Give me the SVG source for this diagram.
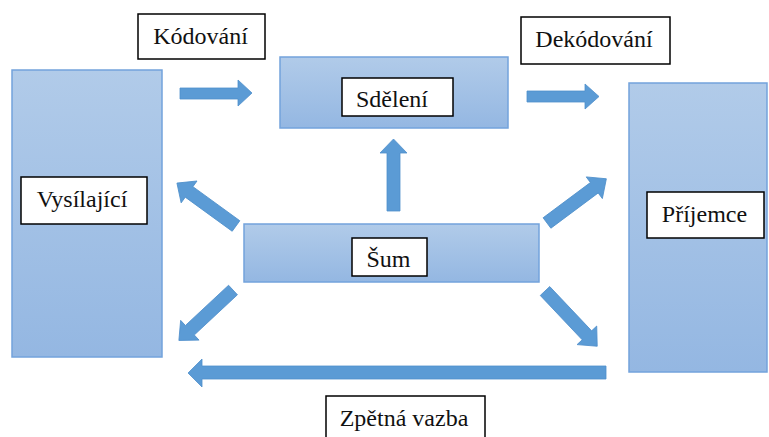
<svg xmlns="http://www.w3.org/2000/svg" width="769" height="437" viewBox="0 0 769 437">
<defs>
<linearGradient id="g" x1="0" y1="0" x2="0" y2="1">
<stop offset="0" stop-color="#b1cbe9"/>
<stop offset="1" stop-color="#94b7e2"/>
</linearGradient>
</defs>
<rect width="769" height="437" fill="#fff"/>
<g id="vysilajici">
<rect x="12" y="70" width="150" height="287" fill="url(#g)" stroke="#73a3dc" stroke-width="1.5"/>
<rect x="21" y="177" width="126" height="47" fill="#fff" stroke="#000" stroke-width="1.5"/>
<text x="82" y="207" font-family="Liberation Serif" font-size="24" fill="#111" text-anchor="middle" style="font-family:'Liberation Serif',serif !important">Vysílající</text>
</g>
<g id="sdeleni">
<rect x="280" y="57" width="228" height="71" fill="url(#g)" stroke="#73a3dc" stroke-width="1.5"/>
<rect x="342" y="78" width="111" height="38" fill="#fff" stroke="#000" stroke-width="1.5"/>
<text x="392" y="107" font-family="Liberation Serif" font-size="24" fill="#111" text-anchor="middle" style="font-family:'Liberation Serif',serif !important">Sdělení</text>
</g>
<g id="prijemce">
<rect x="629" y="83" width="138" height="289" fill="url(#g)" stroke="#73a3dc" stroke-width="1.5"/>
<rect x="647" y="192" width="117" height="46" fill="#fff" stroke="#000" stroke-width="1.5"/>
<text x="704.5" y="222" font-family="Liberation Serif" font-size="24" fill="#111" text-anchor="middle" style="font-family:'Liberation Serif',serif !important">Příjemce</text>
</g>
<g id="sum">
<rect x="244" y="224" width="295" height="58" fill="url(#g)" stroke="#73a3dc" stroke-width="1.5"/>
<rect x="352" y="238" width="75" height="38" fill="#fff" stroke="#000" stroke-width="1.5"/>
<text x="388.5" y="267" font-family="Liberation Serif" font-size="24" fill="#111" text-anchor="middle" style="font-family:'Liberation Serif',serif !important">Šum</text>
</g>
<g id="kodovani">
<rect x="138" y="14" width="127" height="45" fill="#fff" stroke="#000" stroke-width="1.5"/>
<text x="200.5" y="43.5" font-family="Liberation Serif" font-size="24" fill="#111" text-anchor="middle" style="font-family:'Liberation Serif',serif !important">Kódování</text>
</g>
<g id="dekodovani">
<rect x="521" y="17" width="149" height="47" fill="#fff" stroke="#000" stroke-width="1.5"/>
<text x="594" y="47" font-family="Liberation Serif" font-size="24" fill="#111" text-anchor="middle" style="font-family:'Liberation Serif',serif !important">Dekódování</text>
</g>
<g id="zpetna-vazba">
<rect x="326" y="396" width="159" height="45" fill="#fff" stroke="#000" stroke-width="1.5"/>
<text x="404" y="426" font-family="Liberation Serif" font-size="24" fill="#111" text-anchor="middle" style="font-family:'Liberation Serif',serif !important">Zpětná vazba</text>
</g>
<g id="connectors" fill="#5b9bd5" stroke="#4f8fcb" stroke-width="0.8">
<path d="M180,88 L238,88 L238,80 L252,93 L238,106 L238,99 L180,99 Z"/>
<path d="M527,91 L585,91 L585,84 L599,96.5 L585,109 L585,102 L527,102 Z"/>
<path d="M387,211 L387,153 L380,153 L393.5,139 L407,153 L400,153 L400,211 Z"/>
<path d="M606,366 L202,366 L202,359 L188,373 L202,387 L202,379 L606,379 Z"/>
<path transform="translate(236,226) rotate(216)" d="M0,-6.5 L58,-6.5 L58,-13.5 L73,0 L58,13.5 L58,6.5 L0,6.5 Z"/>
<path transform="translate(547,223) rotate(-36.7)" d="M0,-6.5 L59,-6.5 L59,-13.5 L74,0 L59,13.5 L59,6.5 L0,6.5 Z"/>
<path transform="translate(233,290) rotate(137)" d="M0,-6.5 L59,-6.5 L59,-13.5 L74,0 L59,13.5 L59,6.5 L0,6.5 Z"/>
<path transform="translate(545,291) rotate(46.6)" d="M0,-6.5 L61,-6.5 L61,-13.5 L76,0 L61,13.5 L61,6.5 L0,6.5 Z"/>
</g>
</svg>
